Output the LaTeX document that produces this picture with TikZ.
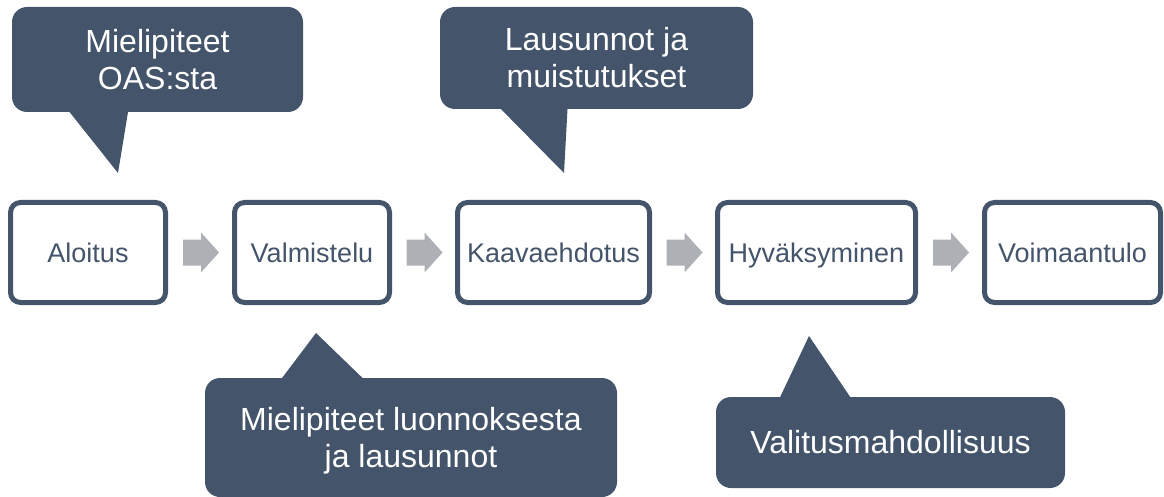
\documentclass[tikz,border=0pt]{standalone}
\usepackage{fontspec}
\setmainfont{Liberation Sans}
\definecolor{slate}{HTML}{44546A}
\definecolor{arrowgray}{HTML}{ADB0B5}
\tikzset{
  pics/blockarrow/.style={code={
    \fill[arrowgray] (-18,-13) -- (0,-13) -- (0,-20) -- (18,0) -- (0,20) -- (0,13) -- (-18,13) -- cycle;}}
}
\begin{document}
\begin{tikzpicture}[x=1pt,y=-1pt,
  stepbox/.style={draw=slate, line width=5pt, rounded corners=10pt, fill=white,
    minimum height=100pt, inner sep=0pt, text height=19.5pt, text depth=0pt,
    text=slate, font=\fontsize{27}{32}\selectfont},
  callout/.style={fill=slate, rounded corners=15pt, inner sep=0pt, text=white,
    align=center, font=\fontsize{32}{37}\selectfont},
  tail/.style={fill=slate}]
\useasboundingbox (0,0) rectangle (1164,497);

% process boxes
\node[stepbox, minimum width=155pt] (s1) at (88,252.5) {Aloitus};
\node[stepbox, minimum width=155pt] (s2) at (312,252.5) {Valmistelu};
\node[stepbox, minimum width=192pt] (s3) at (553.5,252.5) {Kaavaehdotus};
\node[stepbox, minimum width=198pt] (s4) at (816.5,252.5) {Hyväksyminen};
\node[stepbox, minimum width=176pt] (s5) at (1072.5,252.5) {Voimaantulo};

% block arrows
\path (s1.east) -- (s2.west) coordinate[midway] (m1);
\path (s2.east) -- (s3.west) coordinate[midway] (m2);
\path (s3.east) -- (s4.west) coordinate[midway] (m3);
\path (s4.east) -- (s5.west) coordinate[midway] (m4);
\pic at ([xshift=1pt]m1) {blockarrow};
\pic at ([xshift=1pt]m2) {blockarrow};
\pic at ([xshift=1pt]m3) {blockarrow};
\pic at ([xshift=1pt]m4) {blockarrow};

% callouts
\fill[tail] (60,100) -- (130,100) -- (118,173) -- cycle;
\node[callout, minimum width=291pt, minimum height=105pt] (c1) at (157.5,59.5)
  {Mielipiteet\\OAS:sta};

\fill[tail] (492,100) -- (568,100) -- (564,173) -- cycle;
\node[callout, minimum width=313pt, minimum height=102pt] (c2) at (596.5,58)
  {Lausunnot ja\\muistutukset};

\fill[tail] (273,390) -- (375,390) -- (316,333) -- cycle;
\node[callout, minimum width=412pt, minimum height=119pt, text depth=0pt] (c3) at (411,437.5)
  {Mielipiteet luonnoksesta\\ja lausunnot};

\fill[tail] (774,410) -- (859,410) -- (809,336) -- cycle;
\node[callout, minimum width=349pt, minimum height=91pt] (c4) at (890.5,442.5)
  {Valitusmahdollisuus};
\end{tikzpicture}
\end{document}
